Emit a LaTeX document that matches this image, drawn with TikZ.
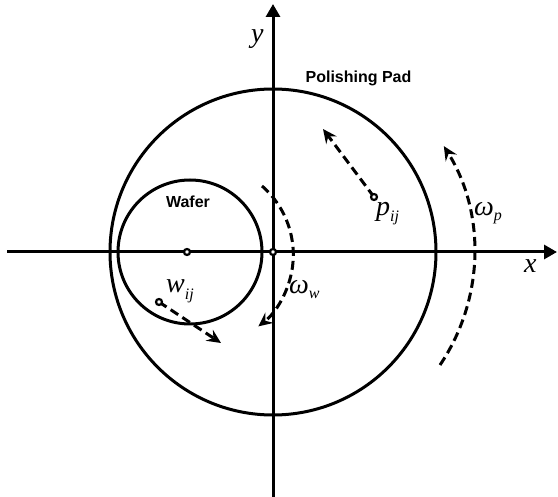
\documentclass[tikz,border=0pt]{standalone}
\usepackage{fontspec}
\setmainfont{Liberation Serif}
\newfontfamily\labsans{Liberation Sans}
\usetikzlibrary{arrows.meta}
\begin{document}
\begin{tikzpicture}[x=1pt,y=-1pt,
  thickline/.style={line width=3pt},
  dasharrow/.style={line width=3pt, dash pattern=on 9pt off 5pt, -{Stealth[length=14pt,width=13pt,inset=5pt]}},
  axisarrow/.style={line width=3pt, -{Triangle[length=13pt,width=14pt]}},
  dotmark/.style={circle, draw, line width=2.2pt, fill=white, inner sep=0pt, minimum size=6pt},
  mathlab/.style={font=\fontsize{28}{28}\selectfont\itshape, inner sep=0pt, anchor=base west},
  titlelab/.style={font=\labsans\bfseries\fontsize{16}{16}\selectfont, inner sep=0pt}]
\useasboundingbox (0,0) rectangle (558,497);
% axes
\coordinate (O) at (273,252);
\coordinate (xl) at (7,252);
\coordinate (xr) at (557,252);
\coordinate (yb) at (273,497);
\coordinate (yt) at (273,4);
\draw[axisarrow] (xl) -- (xr);
\draw[axisarrow] (yb) -- (yt);
% pad and wafer
\draw[thickline] (O) circle[radius=163];
\coordinate (Wc) at (190,252);
\draw[thickline] (Wc) circle[radius=72];
% rotation arrows
\coordinate (wA) at (262,186);
\draw[dasharrow] (wA) arc[start angle=-49, end angle=52, radius=91];
\coordinate (pA) at (440,365);
\draw[dasharrow] (pA) arc[start angle=34, end angle=-32, radius=201];
% point velocity arrows
\coordinate (pP) at (374,197);
\coordinate (pT) at (323,129);
\draw[dasharrow] (pP) -- (pT);
\coordinate (wP) at (159,302);
\coordinate (wT) at (221,343);
\draw[dasharrow] (wP) -- (wT);
% dots
\node[dotmark] (d1) at (187,252) {};
\node[dotmark] (d2) at (O) {};
\node[dotmark] (d3) at (pP) {};
\node[dotmark] (d4) at (wP) {};
% labels
\node[titlelab] (pad) at (358.5,78.5) {Polishing Pad};
\node[titlelab] (waf) at (188,202) {Wafer};
\node[mathlab] (xlab) at (524,273) {x};
\node[mathlab] (ylab) at (251,43) {y};
\node[mathlab] (plab) at (376,216) {p\raisebox{-6pt}{\fontsize{16}{16}\selectfont ij}};
\node[mathlab] (wlab) at (166,293) {w\raisebox{-7pt}{\fontsize{16}{16}\selectfont ij}};
\node[mathlab] (oplab) at (474,216) {ω\raisebox{-5pt}{\fontsize{16}{16}\selectfont p}};
\node[mathlab] (owlab) at (289,294) {ω\raisebox{-5pt}{\fontsize{16}{16}\selectfont w}};
\end{tikzpicture}
\end{document}
